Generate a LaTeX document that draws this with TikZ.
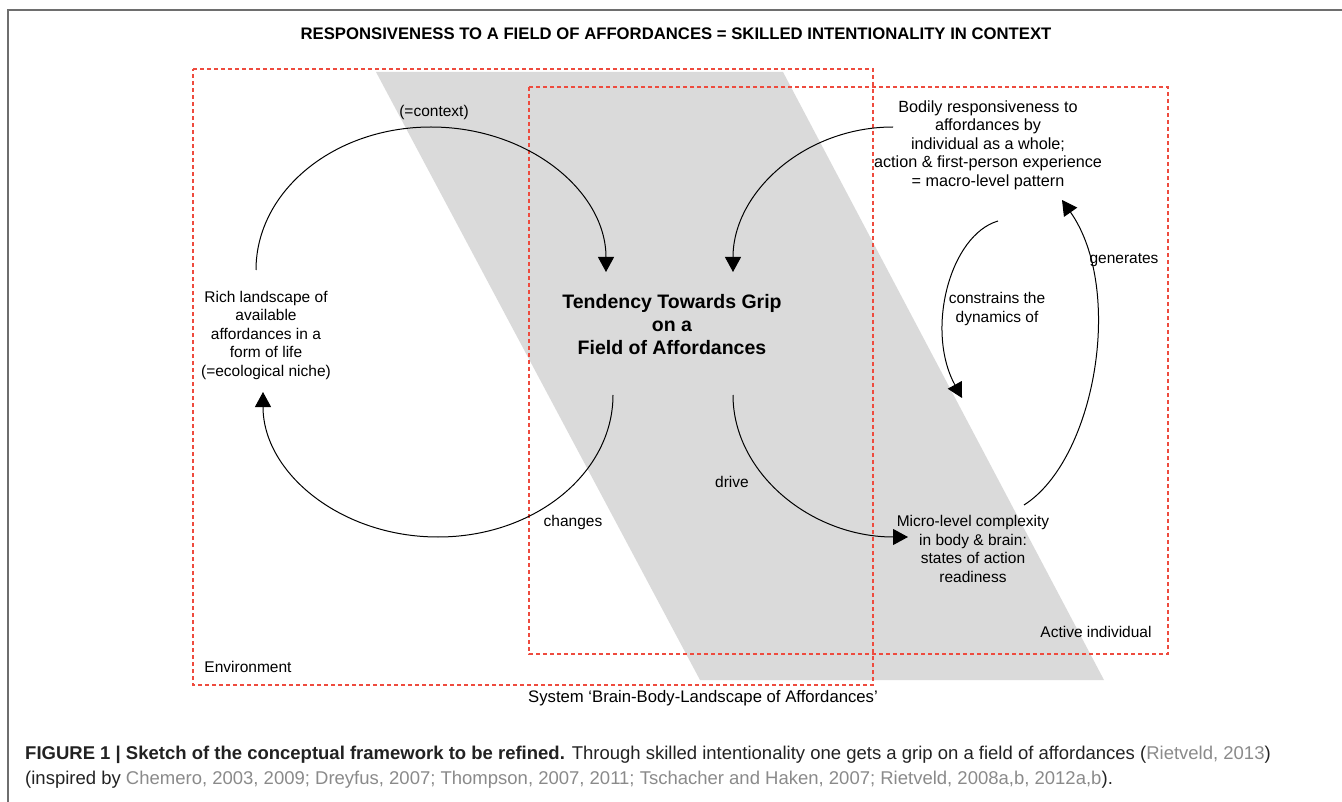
\documentclass[tikz,border=0pt]{standalone}
\usepackage{fontspec}
\setmainfont{Liberation Sans}
\usetikzlibrary{arrows.meta}
\definecolor{dashred}{RGB}{238,75,62}
\definecolor{bandgray}{RGB}{218,218,218}
\definecolor{citegray}{RGB}{138,138,138}
\definecolor{framegray}{RGB}{110,110,110}
\definecolor{captext}{RGB}{34,34,34}
\begin{document}
\begin{tikzpicture}[x=1pt,y=-1pt,
  lbl/.style={font=\fontsize{15.5}{18.5}\selectfont, align=center, inner sep=0pt},
  bigbold/.style={font=\fontsize{19.5}{23}\selectfont\bfseries, align=center, inner sep=0pt},
  titlestyle/.style={font=\fontsize{16.7}{18}\selectfont\bfseries, inner sep=0pt},
  capstyle/.style={font=\fontsize{18.5}{22}\selectfont, text=captext, inner sep=0pt, anchor=west},
  regionbox/.style={color=dashred, draw=dashred, dash pattern=on 4pt off 3pt, line width=1.1pt},
  flow/.style={line width=1pt, -{Triangle[length=15pt,width=16pt]}},
  frameline/.style={draw=framegray, line width=2pt}
]
\useasboundingbox (0,0) rectangle (1342,802);
% outer frame
\draw[frameline] (8,802) -- (8,10) -- (1342,10);
% grey band
\fill[bandgray] (376,72) -- (783,72) -- (1104,680) -- (700,680) -- cycle;
% regions
\draw[regionbox] (529,87) rectangle (1168,654);
\draw[regionbox] (193,69) -- (873,69) -- (873,685) -- (193,685) -- cycle;
% title
\node[titlestyle] (title) at (676,34) {RESPONSIVENESS TO A FIELD OF AFFORDANCES = SKILLED INTENTIONALITY IN CONTEXT};
% main nodes
\node[bigbold] (grip) at (672,325) {Tendency Towards Grip\\on a\\Field of Affordances};
\node[lbl] (land) at (266,335) {Rich landscape of\\available\\affordances in a\\form of life\\(=ecological niche)};
\node[lbl, font=\fontsize{16.2}{18.5}\selectfont] (body) at (988,145) {Bodily responsiveness to\\affordances by\\individual as a whole;\\action \& first-person experience\\= macro-level pattern};
\node[lbl] (micro) at (973,549) {Micro-level complexity\\in body \& brain:\\states of action\\readiness};
% labels
\node[lbl] (ctx) at (434,112) {(=context)};
\node[lbl] (chg) at (573,522) {changes};
\node[lbl] (drv) at (732,482) {drive};
\node[lbl] (cns) at (997,309) {constrains the\\dynamics of};
\node[lbl] (gen) at (1124,260) {generates};
\node[lbl] (act) at (1096,632) {Active individual};
\node[lbl] (env) at (248,667) {Environment};
\node[lbl, font=\fontsize{16.7}{18.5}\selectfont] (sys) at (703,698) {System `Brain-Body-Landscape of Affordances'};
% connector end points
\coordinate (a1) at (256,270);
\coordinate (a1t) at (431,127);
\coordinate (a1e) at (606,272);
\coordinate (a2) at (893,127);
\coordinate (a2e) at (733,272);
\coordinate (a3) at (613,395);
\coordinate (a3b) at (438,537);
\coordinate (a3e) at (263,392);
\coordinate (a4) at (733,395);
\coordinate (a4e) at (908,537);
\coordinate (a5) at (998,221);
\coordinate (a5e) at (962,398);
\coordinate (a6) at (1024,505);
\coordinate (a6e) at (1062,200);
% connectors
\draw[flow] (a1) .. controls (256,191) and (334,127) .. (a1t) .. controls (528,127) and (606,191) .. (a1e);
\draw[flow] (a2) .. controls (805,127) and (733,192) .. (a2e);
\draw[flow] (a3) .. controls (613,473) and (535,537) .. (a3b) .. controls (341,537) and (263,473) .. (a3e);
\draw[flow] (a4) .. controls (733,473) and (811,537) .. (a4e);
\draw[flow] (a5) .. controls (950,235) and (925,330) .. (a5e);
\draw[flow] (a6) .. controls (1095,460) and (1125,290) .. (a6e);
% caption
\node[capstyle] (cap1) at (25,755) {\textbf{FIGURE 1 | Sketch of the conceptual framework to be refined.} Through skilled intentionality one gets a grip on a field of affordances (\textcolor{citegray}{Rietveld, 2013})};
\node[capstyle] (cap2) at (25,780) {(inspired by \textcolor{citegray}{Chemero, 2003, 2009; Dreyfus, 2007; Thompson, 2007, 2011; Tschacher and Haken, 2007; Rietveld, 2008a,b, 2012a,b}).};
\end{tikzpicture}
\end{document}
